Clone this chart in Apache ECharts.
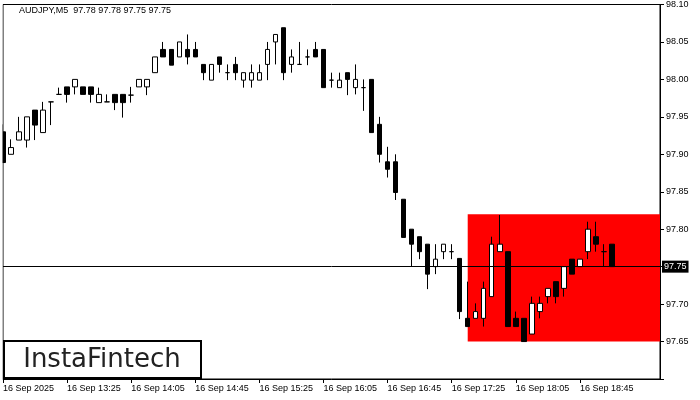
<!DOCTYPE html>
<html>
<head>
<meta charset="utf-8">
<script src="https://cdn.jsdelivr.net/npm/echarts@6/dist/echarts.min.js"></script>
<style>html,body{margin:0;padding:0;background:#fff;}#c{width:700px;height:400px;}</style>
</head>
<body>
<div id="c"></div>
<script>
var categories = ['12:45','12:50','12:55','13:00','13:05','13:10','13:15','13:20',
'13:25','13:30','13:35','13:40','13:45','13:50','13:55','14:00',
'14:05','14:10','14:15','14:20','14:25','14:30','14:35','14:40',
'14:45','14:50','14:55','15:00','15:05','15:10','15:15','15:20',
'15:25','15:30','15:35','15:40','15:45','15:50','15:55','16:00',
'16:05','16:10','16:15','16:20','16:25','16:30','16:35','16:40',
'16:45','16:50','16:55','17:00','17:05','17:10','17:15','17:20',
'17:25','17:30','17:35','17:40','17:45','17:50','17:55','18:00',
'18:05','18:10','18:15','18:20','18:25','18:30','18:35','18:40',
'18:45','18:50','18:55','19:00','19:05','19:10','19:15','19:20',
'19:25','19:30','19:35'];

var tickCats  = ['12:45','13:25','14:05','14:45','15:25','16:05','16:45','17:25','18:05','18:45'];
var tickTexts = ['16 Sep 2025','16 Sep 13:25','16 Sep 14:05','16 Sep 14:45','16 Sep 15:25','16 Sep 16:05','16 Sep 16:45','16 Sep 17:25','16 Sep 18:05','16 Sep 18:45'];

var opens = [97.930,97.900,97.919,97.919,97.959,97.929,97.970,97.980,97.990,97.990,
97.990,97.990,97.969,97.970,97.980,97.980,97.979,97.990,97.990,98.009,
98.040,98.040,98.030,98.040,98.040,98.020,97.999,98.030,98.009,98.020,
97.999,97.999,97.999,98.020,98.050,98.069,98.020,98.020,98.030,98.040,
98.040,97.999,97.989,98.009,97.989,97.989,98.000,97.940,97.890,97.890,
97.840,97.800,97.790,97.780,97.750,97.770,97.770,97.761,97.681,97.681,
97.681,97.710,97.770,97.770,97.681,97.681,97.660,97.690,97.710,97.730,
97.721,97.760,97.750,97.770,97.790,97.770,97.780];
var closes = [97.889,97.909,97.930,97.950,97.939,97.959,97.970,97.980,97.980,98.000,
97.980,97.980,97.980,97.970,97.969,97.969,97.979,98.000,98.000,98.030,
98.030,98.019,98.050,98.030,98.030,98.009,98.020,98.020,98.009,98.009,
98.009,98.009,98.009,98.040,98.060,98.009,98.030,98.020,98.030,98.030,
97.989,97.999,97.999,98.000,98.000,97.989,97.929,97.900,97.880,97.849,
97.789,97.780,97.770,97.740,97.760,97.780,97.770,97.690,97.670,97.690,
97.721,97.780,97.780,97.670,97.670,97.650,97.701,97.701,97.721,97.710,
97.750,97.740,97.760,97.800,97.780,97.770,97.750];
var lows = [97.889,97.900,97.919,97.909,97.919,97.929,97.939,97.980,97.969,97.980,
97.980,97.969,97.969,97.970,97.959,97.949,97.969,97.990,97.979,98.009,
98.030,98.019,98.030,98.020,98.030,97.999,97.999,98.009,97.999,97.999,
97.989,97.989,97.999,97.999,98.020,97.999,98.009,98.020,98.019,98.030,
97.989,97.989,97.989,97.979,97.980,97.958,97.929,97.889,97.869,97.839,
97.789,97.750,97.760,97.720,97.740,97.760,97.760,97.680,97.670,97.681,
97.670,97.710,97.770,97.670,97.670,97.650,97.660,97.681,97.701,97.701,
97.710,97.740,97.750,97.760,97.770,97.750,97.750];
var highs = [97.940,97.920,97.950,97.950,97.959,97.970,97.970,97.989,97.990,98.000,
97.990,97.990,97.989,97.980,97.980,97.980,97.990,98.000,98.000,98.030,
98.050,98.040,98.050,98.060,98.050,98.020,98.020,98.030,98.020,98.030,
98.009,98.020,98.020,98.050,98.060,98.069,98.040,98.050,98.040,98.050,
98.040,98.009,98.009,98.009,98.020,98.000,98.000,97.950,97.910,97.900,
97.840,97.800,97.790,97.780,97.780,97.780,97.780,97.761,97.730,97.701,
97.730,97.790,97.819,97.770,97.690,97.681,97.710,97.710,97.721,97.730,
97.750,97.760,97.760,97.810,97.810,97.780,97.780];

var zoneFrom = '17:35', zoneTo = '19:35';
var zoneHigh = 97.82, zoneLow = 97.65;
var currentPrice = 97.75;
var headerText = 'AUDJPY,M5  97.78 97.78 97.75 97.75';

var candleData = opens.map(function (o, i) { return [o, closes[i], lows[i], highs[i]]; });

var chart = echarts.init(document.getElementById('c'), null, {renderer: 'canvas'});
var FONT = '"Liberation Sans", Arial, sans-serif';
chart.setOption({
  animation: false,
  backgroundColor: '#ffffff',
  grid: {left: 3, right: 40, top: 3, bottom: 21, show: true, borderColor: '#000', borderWidth: 1, backgroundColor: 'transparent'},
  xAxis: {
    type: 'category',
    data: categories,
    boundaryGap: false,
    axisLine: {show: true, lineStyle: {color: '#000', width: 1}},
    axisTick: {show: true, length: 4, lineStyle: {color: '#000'},
      interval: function (idx, val) { return tickCats.indexOf(val) >= 0; }},
    axisLabel: {show: true, color: '#000', fontSize: 9, fontFamily: FONT, align: 'left', margin: 5,
      interval: function (idx, val) { return tickCats.indexOf(val) >= 0; },
      formatter: function (val) { var i = tickCats.indexOf(val); return i >= 0 ? tickTexts[i] : ''; }},
    splitLine: {show: false}
  },
  yAxis: {
    type: 'value',
    position: 'right',
    min: 97.60, max: 98.10, interval: 0.05,
    scale: true,
    axisLine: {show: true, lineStyle: {color: '#000', width: 1}},
    axisTick: {show: true, length: 4, lineStyle: {color: '#000'}},
    axisLabel: {show: true, color: '#000', fontSize: 9, fontFamily: FONT, margin: 6,
      formatter: function (v) { return Math.abs(v - 97.60) < 1e-6 ? '' : v.toFixed(2); }},
    splitLine: {show: false}
  },
  graphic: [
    {type: 'rect', z: 99, silent: true, shape: {x: 0, y: 0, width: 2.5, height: 400},
     style: {fill: '#fff'}},
    {type: 'text', left: 19, top: 6, z: 100,
     style: {text: headerText, fill: '#000', font: '9px "Liberation Sans", Arial, sans-serif'}},
    {type: 'rect', z: 100, shape: {x: 4, y: 341, width: 197, height: 37},
     style: {fill: '#fff', stroke: '#000', lineWidth: 2}},
    {type: 'text', z: 101, x: 102, y: 360,
     style: {text: 'InstaFintech', fill: '#222', font: '26px "DejaVu Sans", sans-serif', textAlign: 'center', textVerticalAlign: 'middle'}}
  ],
  series: [
    {
      type: 'line', data: [], z: 1, silent: true,
      markArea: {silent: true, itemStyle: {color: '#ff0000', opacity: 1},
        data: [[{xAxis: zoneFrom, yAxis: zoneHigh}, {xAxis: zoneTo, yAxis: zoneLow}]]}
    },
    {
      type: 'candlestick', z: 3,
      data: candleData,
      barWidth: 5,
      itemStyle: {color: '#ffffff', color0: '#000000', borderColor: '#000000', borderColor0: '#000000', borderColorDoji: '#000000', borderWidth: 1},
      markLine: {silent: true, symbol: ['none', 'none'], z: 5,
        lineStyle: {color: '#000', width: 1, type: 'solid'},
        label: {show: true, position: 'end', distance: 2, formatter: currentPrice.toFixed(2), color: '#fff', backgroundColor: '#000',
          fontSize: 9, fontFamily: FONT, padding: [2, 2, 1, 2]},
        data: [{yAxis: currentPrice}]}
    }
  ]
});
</script>
</body>
</html>
